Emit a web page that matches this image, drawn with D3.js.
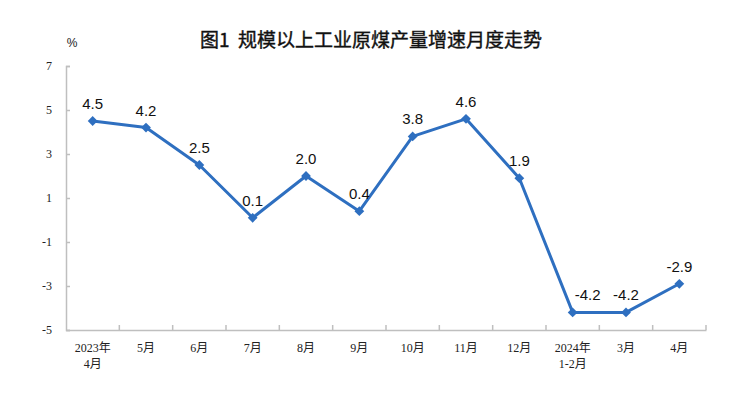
<!DOCTYPE html>
<html><head><meta charset="utf-8">
<script src="https://cdn.jsdelivr.net/npm/d3@7"></script>
<style>body{margin:0;background:#fff}svg{display:block}</style>
</head><body><svg id="c" width="740" height="394"></svg>
<script>
const categories = ["2023年\n4月","5月","6月","7月","8月","9月","10月","11月","12月","2024年\n1-2月","3月","4月"];
const values = [4.5,4.2,2.5,0.1,2.0,0.4,3.8,4.6,1.9,-4.2,-4.2,-2.9];
const yTicks = [7,5,3,1,-1,-3,-5];
const title = "图1  规模以上工业原煤产量增速月度走势";
const unit = "%";

const svg = d3.select("#c");
const m = {l:66, r:706, t:66, b:330};
const x = d3.scaleBand().domain(categories).range([m.l, m.r]);
const y = d3.scaleLinear().domain([-5,7]).range([m.b, m.t]);
const serif = "'Liberation Serif','Noto Sans CJK SC',serif";
const axisCol = "#bfbfbf";
const fmt = d => d.toFixed(1);

svg.append("text").attr("x",371).attr("y",47).attr("text-anchor","middle")
  .style("white-space","pre")
  .attr("font-family","'Noto Sans CJK SC',sans-serif").attr("font-size",19).attr("font-weight","normal")
  .attr("fill","#111").attr("stroke","#111").attr("stroke-width",0.4).text(title);
svg.append("text").attr("x",72).attr("y",47).attr("text-anchor","middle")
  .attr("font-family","'Liberation Sans',sans-serif").attr("font-size",12).attr("fill","#222").text(unit);

// y axis
const ya = svg.append("g").attr("transform",`translate(${m.l},0)`)
  .call(d3.axisLeft(y).tickValues(yTicks).tickSize(-4).tickPadding(14).tickFormat(d => String(d)));
ya.select(".domain").attr("stroke",axisCol).attr("stroke-width",1.5);
ya.selectAll(".tick line").attr("stroke",axisCol).attr("stroke-width",1.5);
ya.selectAll(".tick text").attr("font-family",serif).attr("font-size",12).attr("fill","#222");

// x axis
const xa = svg.append("g").attr("transform",`translate(0,${m.b})`)
  .call(d3.axisBottom(x).tickSize(0).tickFormat(""));
xa.select(".domain").attr("stroke",axisCol).attr("stroke-width",1.5);
const bounds = categories.map((c,i)=>m.l + x.step()*(i+1));
svg.append("g").selectAll("line").data(bounds).join("line")
  .attr("x1",d=>d).attr("x2",d=>d).attr("y1",m.b).attr("y2",m.b-5)
  .attr("stroke",axisCol).attr("stroke-width",1.5);
const lbl = svg.append("g").selectAll("text").data(categories).join("text")
  .attr("x",d=>x(d)+x.bandwidth()/2).attr("y",352).attr("text-anchor","middle")
  .attr("font-family",serif).attr("font-size",12).attr("fill","#222");
lbl.each(function(d){
  const parts = d.split("\n");
  d3.select(this).selectAll("tspan").data(parts).join("tspan")
    .attr("x",x(d)+x.bandwidth()/2).attr("dy",(p,i)=>i?16:0).text(p=>p);
});

// line
const cx = (d,i)=>x(categories[i])+x.bandwidth()/2;
const line = d3.line().x(cx).y(d=>y(d));
svg.append("path").datum(values).attr("d",line).attr("fill","none")
  .attr("stroke","#2e6fc0").attr("stroke-width",3).attr("stroke-linejoin","round");
svg.append("g").selectAll("path").data(values).join("path")
  .attr("d",d3.symbol(d3.symbolSquare,48)())
  .attr("transform",(d,i)=>`translate(${cx(d,i)},${y(d)}) rotate(45)`).attr("fill","#2e6fc0");
svg.append("g").selectAll("text").data(values).join("text")
  .attr("x",(d,i)=>cx(d,i)+(i===9?15:0)).attr("y",d=>y(d)-12).attr("text-anchor","middle")
  .attr("font-family","'Liberation Sans',Arial,sans-serif").attr("font-size",15).attr("fill","#111")
  .text(fmt);
</script></body></html>
